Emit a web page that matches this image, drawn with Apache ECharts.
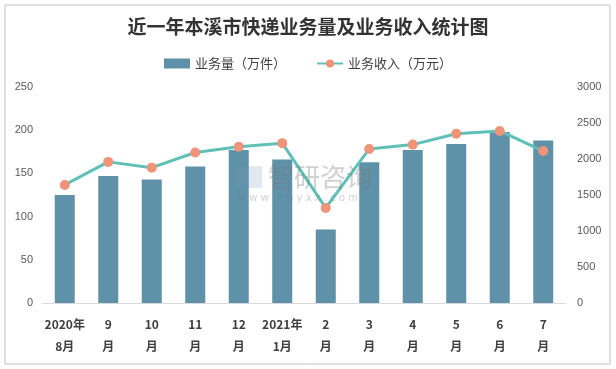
<!DOCTYPE html>
<html><head><meta charset="utf-8">
<script src="https://cdn.jsdelivr.net/npm/echarts@6/dist/echarts.min.js"></script>
<style>html,body{margin:0;padding:0;background:#fff}#c{width:616px;height:369px}</style>
</head><body><div id="c"></div>
<script>
const categories = ['2020年\n8月','9\n月','10\n月','11\n月','12\n月','2021年\n1月','2\n月','3\n月','4\n月','5\n月','6\n月','7\n月'];
const volume = [125, 147, 143, 158, 177, 166, 85, 163, 177, 184, 198, 188];
const revenue = [1640, 1960, 1880, 2090, 2170, 2220, 1320, 2140, 2200, 2350, 2390, 2110];
const leftTicks = [0, 250, 50];
const rightTicks = [0, 3000, 500];

const chart = echarts.init(document.getElementById('c'), null, {renderer:'canvas'});
chart.setOption({
  animation: false,
  backgroundColor: '#fff',
  title: {
    text: '近一年本溪市快递业务量及业务收入统计图',
    left: 'center', top: 12,
    textStyle: {fontFamily: 'Noto Sans CJK SC', fontWeight: 'bold', fontSize: 19, color: '#333'}
  },
  legend: {
    top: 52, left: 'center', itemGap: 30, itemWidth: 26, itemHeight: 10,
    textStyle: {fontFamily: 'Noto Sans CJK SC', fontSize: 13, color: '#404040'},
    data: [{name: '业务量（万件）', icon: 'rect'}, {name: '业务收入（万元）'}]
  },
  graphic: [
    {type: 'rect', shape: {x: 5, y: 5, width: 605, height: 359}, style: {fill: 'none', stroke: '#bfbfbf', lineWidth: 1}, silent: true},
    {type: 'rect', shape: {x: 236, y: 166, width: 26, height: 22}, style: {fill: 'rgba(120,150,180,0.22)'}, silent: true, z: 100},
    {type: 'text', left: 268, top: 164, style: {text: '智研咨询', font: '26px "Noto Sans CJK SC"', fill: 'rgba(120,120,120,0.35)'}, silent: true, z: 100},
    {type: 'text', left: 238, top: 193, style: {text: 'w w w . c h y x x . c o m', font: '10px "DejaVu Sans"', fill: 'rgba(120,120,120,0.35)'}, silent: true, z: 100}
  ],
  grid: {left: 43, right: 51, top: 87, bottom: 66, containLabel: false},
  xAxis: {
    type: 'category', data: categories,
    axisLine: {lineStyle: {color: '#d9d9d9'}},
    axisTick: {show: false},
    axisLabel: {interval: 0, margin: 10, fontFamily: 'Noto Sans CJK SC', fontWeight: 'bold', fontSize: 12, color: '#404040', lineHeight: 22}
  },
  yAxis: [
    {type: 'value', min: leftTicks[0], max: leftTicks[1], interval: leftTicks[2],
     splitLine: {show: false}, axisLine: {show: false}, axisTick: {show: false},
     axisLabel: {fontFamily: 'Liberation Sans', fontSize: 11, color: '#595959', margin: 10, formatter: v => String(v)}},
    {type: 'value', min: rightTicks[0], max: rightTicks[1], interval: rightTicks[2],
     splitLine: {show: false}, axisLine: {show: false}, axisTick: {show: false},
     axisLabel: {fontFamily: 'Liberation Sans', fontSize: 11, color: '#595959', margin: 12, formatter: v => String(v)}}
  ],
  series: [
    {name: '业务量（万件）', type: 'bar', data: volume, barWidth: 20, itemStyle: {color: '#5f91a8'}},
    {name: '业务收入（万元）', type: 'line', yAxisIndex: 1, data: revenue, symbol: 'circle', symbolSize: 10,
     lineStyle: {color: '#5ec0b6', width: 3}, itemStyle: {color: '#ef9479'}}
  ]
});
</script></body></html>
